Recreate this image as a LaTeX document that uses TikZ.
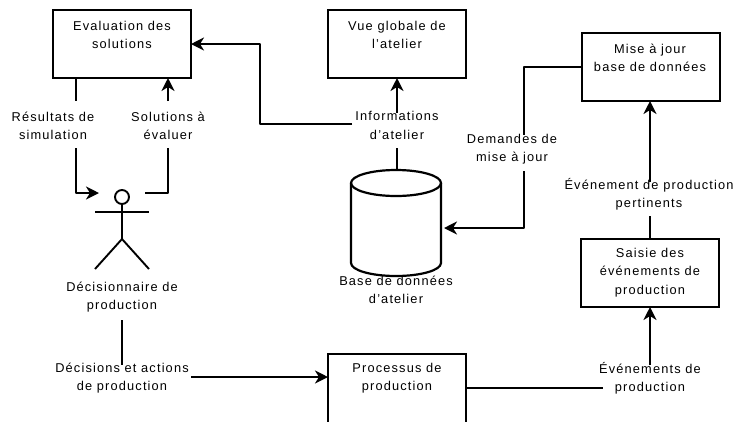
\documentclass[tikz,border=0pt]{standalone}
\usepackage{fontspec}
\setmainfont[LetterSpace=9]{Liberation Sans}
\usetikzlibrary{arrows.meta,calc}
\tikzset{
 boxnode/.style={draw,line width=2.2bp,minimum width=138bp,minimum height=68bp,inner sep=0pt,outer sep=0pt},
 txt/.style={align=center,inner sep=0pt,font=\fontsize{12.8bp}{18.3bp}\selectfont},
 conn/.style={line width=2.2bp,line join=round},
 arr/.style={conn,-{Stealth[length=13bp,width=13bp,inset=4bp]}},
 limb/.style={line width=1.9bp}
}
\begin{document}
\begin{tikzpicture}[x=1bp,y=-1bp]
\useasboundingbox (0,0) rectangle (735,421);
\begin{scope}
\clip (0,0) rectangle (735,421);
\node[boxnode,anchor=north west] (eval) at (53,10) {};
\node[boxnode,anchor=north west] (vue) at (328,10) {};
\node[boxnode,anchor=north west] (maj) at (582,33) {};
\node[boxnode,anchor=north west] (saisie) at (581,239) {};
\node[boxnode,anchor=north west,minimum height=72bp] (proc) at (328,354) {};
\end{scope}
% database cylinder
\node[minimum width=90bp,minimum height=106bp,inner sep=0pt,outer sep=0pt] (db) at (396,223) {};
\draw[conn] ($(db.north)+(0,13)$) ellipse [x radius=45bp,y radius=13bp];
\draw[conn] ($(db.north west)+(0,13)$) -- ($(db.south west)+(0,-13)$)
  arc[start angle=180,end angle=360,x radius=45bp,y radius=13bp]
  -- ($(db.north east)+(0,13)$);
% actor
\node[draw,circle,line width=1.9bp,minimum size=14bp,inner sep=0pt] (head) at (122,197) {};
\coordinate (armL) at (95,212);
\coordinate (armR) at (149,212);
\coordinate (hip) at (122,239);
\coordinate (legL) at (95,269);
\coordinate (legR) at (149,269);
\draw[limb] (head) -- (hip);
\draw[limb] (armL) -- (armR);
\draw[limb] (legL) -- (hip) -- (legR);
% box texts
\node[txt] at (122,35) {Evaluation des\\solutions};
\node[txt] at (397,35) {Vue globale de\\l'atelier};
\node[txt] at (650,57.5) {Mise à jour\\base de données};
\node[txt] at (650,272.5) {Saisie des\\événements de\\production};
\node[txt] at (397,378) {Processus de\\production};
% labels
\node[txt] (lres) at (53,125.5) {Résultats de\\simulation};
\node[txt] (lsol) at (168,125.5) {Solutions à\\évaluer};
\node[txt] (linfo) at (397,125.5) {Informations\\d'atelier};
\node[txt] (ldem) at (512,149) {Demandes de\\mise à jour};
\node[txt] (lpert) at (649,194.5) {Événement de production\\pertinents};
\node[txt] (lbase) at (396,290) {Base de données\\d'atelier};
\node[txt] (ldec) at (122,297) {Décisionnaire de\\production};
\node[txt] (lact) at (122,378) {Décisions et actions\\de production};
\node[txt] (levt) at (650,378) {Événements de\\production};
% free ends
\coordinate (a1) at (76,101);
\coordinate (a2) at (76,148);
\coordinate (a3) at (99,193);
\coordinate (b1) at (145,193);
\coordinate (b2) at (168,148);
\coordinate (b3) at (168,101);
\coordinate (c1) at (352,124);
\coordinate (d1) at (397,113);
\coordinate (d2) at (397,148);
\coordinate (e1) at (524,135);
\coordinate (e2) at (524,171);
\coordinate (f1) at (650,182);
\coordinate (f2) at (650,216);
\coordinate (g1) at (650,365);
\coordinate (g2) at (603,388);
\coordinate (h1) at (122,320);
\coordinate (h2) at (122,365);
\coordinate (h3) at (191,377);
% connectors
\draw[conn] (eval.south -| a1) -- (a1);
\draw[arr] (a2) -- (a2 |- a3) -- (a3);
\draw[conn] (b1) -- (b1 -| b2) -- (b2);
\draw[arr] (b3) -- (b3 |- eval.south);
\draw[arr] (c1) -- (260,124) -- (260,44) -- (eval.east |- 0,44);
\draw[arr] (d1) -- (d1 |- vue.south);
\draw[conn] (d2) -- (d2 |- db.north);
\draw[conn] (maj.west) -- (maj.west -| e1) -- (e1);
\draw[arr] (e2) -- (524,228) -- (444,228);
\draw[arr] (f1) -- (f1 |- maj.south);
\draw[conn] (f2) -- (f2 |- saisie.north);
\draw[arr] (g1) -- (g1 |- saisie.south);
\draw[conn] (proc.east |- g2) -- (g2);
\draw[conn] (h1) -- (h2);
\draw[arr] (h3) -- (h3 -| proc.west);
\end{tikzpicture}
\end{document}
